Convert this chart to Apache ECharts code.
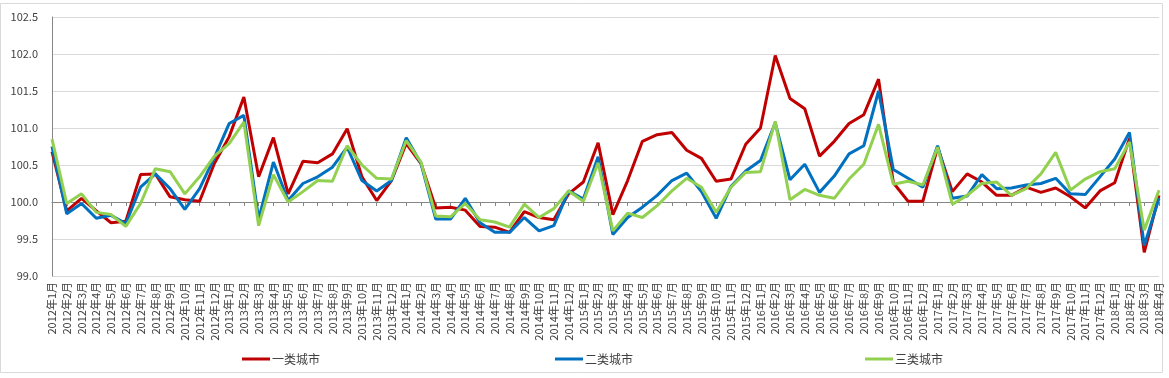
<!DOCTYPE html>
<html>
<head>
<meta charset="utf-8">
<script src="https://cdn.jsdelivr.net/npm/echarts@6/dist/echarts.min.js"></script>
<style>
html,body{margin:0;padding:0;background:#fff;}
#chart{width:1169px;height:378px;}
</style>
</head>
<body>
<div id="chart"></div>
<script>
// categories: 2012年1月 ... 2018年4月
var categories = [];
for (var y = 2012; y <= 2018; y++) {
  for (var m = 1; m <= 12; m++) {
    if (y === 2018 && m > 4) break;
    categories.push(y + '年' + m + '月');
  }
}

var seriesNames = ['一类城市', '二类城市', '三类城市'];

var tier1 = [100.68, 99.88, 100.05, 99.88, 99.72, 99.74, 100.37, 100.38, 100.07, 100.03, 100.01, 100.52,
             100.88, 101.42, 100.34, 100.87, 100.11, 100.55, 100.53, 100.65, 100.99, 100.34, 100.02, 100.29,
             100.79, 100.52, 99.92, 99.93, 99.89, 99.67, 99.66, 99.59, 99.87, 99.79, 99.76, 100.11,
             100.27, 100.80, 99.83, 100.29, 100.82, 100.91, 100.94, 100.70, 100.59, 100.28, 100.31, 100.78,
             101.00, 101.98, 101.40, 101.26, 100.62, 100.82, 101.06, 101.18, 101.66, 100.26, 100.01, 100.01,
             100.74, 100.14, 100.38, 100.27, 100.09, 100.09, 100.20, 100.13, 100.19, 100.07, 99.92, 100.15,
             100.26, 100.86, 99.32, 100.09];

var tier2 = [100.75, 99.84, 99.98, 99.78, 99.82, 99.71, 100.20, 100.38, 100.18, 99.90, 100.18, 100.60,
             101.06, 101.17, 99.77, 100.54, 100.02, 100.25, 100.34, 100.47, 100.74, 100.29, 100.15, 100.29,
             100.87, 100.52, 99.77, 99.77, 100.05, 99.72, 99.59, 99.59, 99.79, 99.61, 99.68, 100.15,
             100.04, 100.61, 99.56, 99.79, 99.93, 100.09, 100.29, 100.39, 100.14, 99.78, 100.21, 100.42,
             100.56, 101.07, 100.30, 100.51, 100.13, 100.35, 100.65, 100.76, 101.50, 100.44, 100.32, 100.20,
             100.76, 100.05, 100.08, 100.37, 100.18, 100.19, 100.23, 100.25, 100.32, 100.11, 100.10, 100.34,
             100.58, 100.94, 99.41, 100.05];

var tier3 = [100.85, 99.98, 100.11, 99.86, 99.83, 99.67, 99.98, 100.45, 100.41, 100.11, 100.34, 100.62,
             100.79, 101.08, 99.68, 100.37, 100.00, 100.14, 100.29, 100.28, 100.76, 100.50, 100.32, 100.31,
             100.83, 100.54, 99.81, 99.80, 99.98, 99.76, 99.73, 99.66, 99.97, 99.79, 99.91, 100.15,
             100.01, 100.53, 99.61, 99.85, 99.79, 99.95, 100.15, 100.32, 100.20, 99.86, 100.20, 100.40,
             100.41, 101.09, 100.03, 100.17, 100.09, 100.05, 100.31, 100.51, 101.05, 100.24, 100.28, 100.23,
             100.74, 99.97, 100.09, 100.25, 100.27, 100.09, 100.18, 100.38, 100.67, 100.16, 100.31, 100.41,
             100.45, 100.81, 99.62, 100.16];

var yTicks = {min: 99.0, max: 102.5, interval: 0.5};

var colors = ['#C00000', '#0070C0', '#92D050'];
var FONT = '"Noto Sans CJK SC", "Microsoft YaHei", sans-serif';

var gridTop = 17, gridBottom = 102, H = 378;
var gridH = H - gridTop - gridBottom;
var crossOffset = -gridH * (100 - yTicks.min) / (yTicks.max - yTicks.min);

var chart = echarts.init(document.getElementById('chart'), null, {renderer: 'canvas'});
chart.setOption({
  animation: false,
  backgroundColor: '#ffffff',
  graphic: [{
    type: 'rect',
    shape: {x: 0.5, y: 3.5, width: 1162, height: 369},
    style: {fill: 'none', stroke: '#d9d9d9', lineWidth: 1},
    silent: true, z: -10
  }],
  grid: {left: 52, right: 10, top: gridTop, bottom: gridBottom},
  legend: seriesNames.map(function (n, i) {
    return {
      data: [n],
      left: [237, 550, 860][i],
      top: 348,
      icon: 'rect',
      itemWidth: 28,
      itemHeight: 3,
      itemGap: 2,
      textStyle: {fontFamily: FONT, fontSize: 12, color: '#404040', padding: [0, 0, 0, -3]}
    };
  }),
  xAxis: [{
    type: 'category',
    data: categories,
    boundaryGap: false,
    axisLine: {show: false},
    axisTick: {show: false},
    axisLabel: {
      rotate: 90, interval: 0, margin: 6,
      fontFamily: FONT, fontSize: 11, color: '#404040'
    },
    splitLine: {show: false}
  }, {
    type: 'category',
    data: categories,
    boundaryGap: false,
    position: 'bottom',
    offset: crossOffset,
    axisLine: {show: true, lineStyle: {color: '#868686', width: 1}},
    axisTick: {show: true, interval: 0, length: 4, lineStyle: {color: '#868686'}},
    axisLabel: {show: false},
    splitLine: {show: false}
  }],
  yAxis: {
    type: 'value',
    min: yTicks.min,
    max: yTicks.max,
    interval: yTicks.interval,
    axisLine: {show: true, lineStyle: {color: '#868686'}},
    axisTick: {show: false},
    axisLabel: {
      margin: 14, fontFamily: FONT, fontSize: 11, color: '#404040',
      formatter: function (v) { return v.toFixed(1); }
    },
    splitLine: {show: true, lineStyle: {color: '#d9d9d9', width: 1}}
  },
  series: [tier1, tier2, tier3].map(function (d, i) {
    return {
      name: seriesNames[i],
      type: 'line',
      data: d,
      xAxisIndex: 0,
      symbol: 'none',
      lineStyle: {color: colors[i], width: 3},
      itemStyle: {color: colors[i]},
      z: 3 + i
    };
  })
});
</script>
</body>
</html>
